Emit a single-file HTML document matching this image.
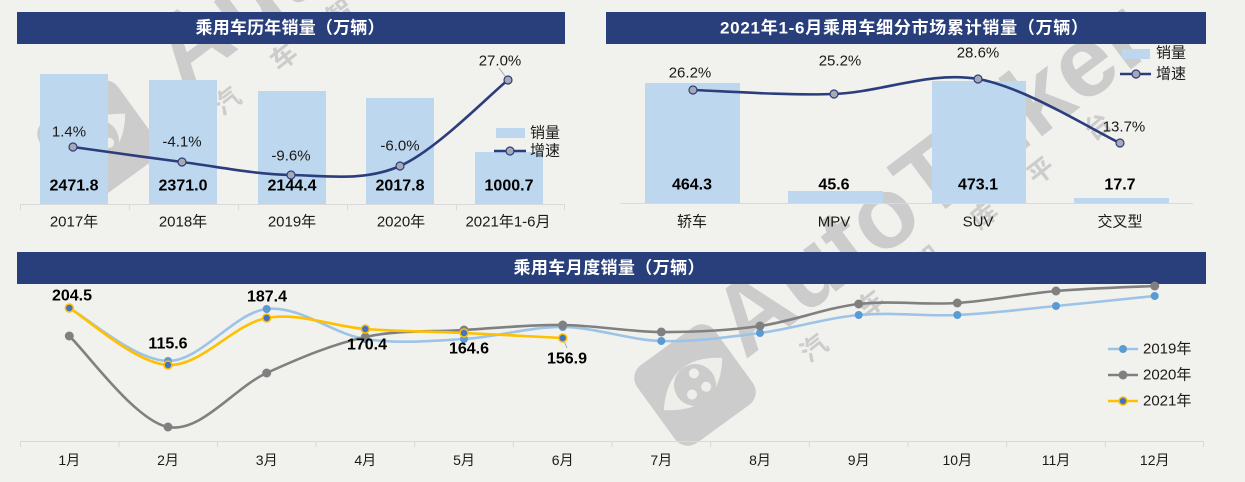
<!DOCTYPE html>
<html><head><meta charset="utf-8">
<style>
html,body{margin:0;padding:0;background:#f1f2ee;}
body{width:1245px;height:482px;overflow:hidden;}
svg{display:block;font-family:"Liberation Sans","Noto Sans CJK SC",sans-serif;}
</style></head>
<body>
<svg width="1245" height="482" viewBox="0 0 1245 482" xmlns="http://www.w3.org/2000/svg">
<rect x="0" y="0" width="1245" height="482" fill="#f1f2ee"/>

<!-- watermark copy 1 -->
<g fill="#cccccc">
  <text transform="translate(745,360) rotate(-37)" font-size="100" font-weight="bold" font-family="Liberation Sans, sans-serif">AutoTalker</text>
  <text transform="translate(813,347) rotate(-38)" x="-13" font-size="26" font-weight="bold" letter-spacing="46" dominant-baseline="central" font-family="Noto Sans CJK SC, sans-serif">汽车智库平台</text>
  <g transform="translate(695,385) rotate(-36)">
    <rect x="-48" y="-48" width="96" height="96" rx="16"/>
    <path d="M-40,2 Q-5,-40 38,-6 Q5,38 -40,2 Z" fill="#eeefeb"/>
    <circle cx="0" cy="0" r="21"/>
    <circle cx="-8" cy="6" r="5" fill="#eeefeb"/>
    <circle cx="8" cy="8" r="5" fill="#eeefeb"/>
    <circle cx="6" cy="-10" r="5" fill="#eeefeb"/>
  </g>
</g>
<!-- watermark copy 2 -->
<g fill="#cccccc">
  <text transform="translate(183,91) rotate(-37)" font-size="100" font-weight="bold" font-family="Liberation Sans, sans-serif">AutoTalker</text>
  <text transform="translate(226,100) rotate(-38)" x="-13" font-size="26" font-weight="bold" letter-spacing="46" dominant-baseline="central" font-family="Noto Sans CJK SC, sans-serif">汽车智库平台</text>
  <g transform="translate(98,141) rotate(-36)">
    <rect x="-48" y="-48" width="96" height="96" rx="16"/>
    <path d="M-40,2 Q-5,-40 38,-6 Q5,38 -40,2 Z" fill="#eeefeb"/>
    <circle cx="0" cy="0" r="21"/>
    <circle cx="-8" cy="6" r="5" fill="#eeefeb"/>
    <circle cx="8" cy="8" r="5" fill="#eeefeb"/>
    <circle cx="6" cy="-10" r="5" fill="#eeefeb"/>
  </g>
</g>

<!-- ================= LEFT PANEL ================= -->
<rect x="17" y="12" width="548" height="32" fill="#283f7c"/>
<text x="290" y="28" fill="#fff" font-size="17" font-weight="bold" text-anchor="middle" dominant-baseline="central" textLength="189" font-family="Liberation Sans, Noto Sans CJK SC, sans-serif">乘用车历年销量（万辆）</text>

<g fill="#bdd7ee">
  <rect x="40" y="74" width="68" height="130"/>
  <rect x="149" y="80" width="68" height="124"/>
  <rect x="258" y="91" width="68" height="113"/>
  <rect x="366" y="98" width="68" height="106"/>
  <rect x="475" y="152" width="68" height="52"/>
</g>
<g stroke="#d9d9d9" stroke-width="1">
  <line x1="20" y1="204.5" x2="565" y2="204.5"/>
  <line x1="20.5" y1="204" x2="20.5" y2="210"/>
  <line x1="129.5" y1="204" x2="129.5" y2="210"/>
  <line x1="238.5" y1="204" x2="238.5" y2="210"/>
  <line x1="347.5" y1="204" x2="347.5" y2="210"/>
  <line x1="456.5" y1="204" x2="456.5" y2="210"/>
  <line x1="564.5" y1="204" x2="564.5" y2="210"/>
</g>
<g font-size="15" fill="#1a1a1a" text-anchor="middle" dominant-baseline="central">
  <text x="74" y="222">2017年</text>
  <text x="183" y="222">2018年</text>
  <text x="292" y="222">2019年</text>
  <text x="401" y="222">2020年</text>
  <text x="508" y="222">2021年1-6月</text>
</g>
<g font-size="16" font-weight="bold" fill="#000" text-anchor="middle" dominant-baseline="central">
  <text x="74" y="186">2471.8</text>
  <text x="183" y="186">2371.0</text>
  <text x="292" y="186">2144.4</text>
  <text x="400" y="186">2017.8</text>
  <text x="509" y="186">1000.7</text>
</g>
<path d="M73,147 C91.2,149.5 145.7,157.3 182,162 C218.3,166.7 254.7,174.3 291,175 C327.3,175.7 363.8,181.8 400,166 C436.2,150.2 490,94.3 508,80" fill="none" stroke="#2c3d7c" stroke-width="2.6"/>
<line x1="499" y1="68" x2="505" y2="76" stroke="#9a9a9a" stroke-width="0.8"/>
<g fill="#a7a9b5" stroke="#2c3d7c" stroke-width="1.2">
  <circle cx="73" cy="147" r="4"/>
  <circle cx="182" cy="162" r="4"/>
  <circle cx="291" cy="175" r="4"/>
  <circle cx="400" cy="166" r="4"/>
  <circle cx="508" cy="80" r="4"/>
</g>
<g font-size="15" fill="#1a1a1a" text-anchor="middle" dominant-baseline="central">
  <text x="69" y="132">1.4%</text>
  <text x="182" y="142">-4.1%</text>
  <text x="291" y="156">-9.6%</text>
  <text x="400" y="146">-6.0%</text>
  <text x="500" y="61">27.0%</text>
</g>
<rect x="496" y="128" width="29" height="10" fill="#bdd7ee"/>
<line x1="494" y1="151" x2="526" y2="151" stroke="#2c3d7c" stroke-width="2.6"/>
<circle cx="510" cy="151" r="4" fill="#a7a9b5" stroke="#2c3d7c" stroke-width="1.2"/>
<g font-size="15" fill="#1a1a1a" dominant-baseline="central">
  <text x="530" y="133">销量</text>
  <text x="530" y="151">增速</text>
</g>

<!-- ================= RIGHT PANEL ================= -->
<rect x="606" y="12" width="600" height="32" fill="#283f7c"/>
<text x="904" y="28" fill="#fff" font-size="17" font-weight="bold" text-anchor="middle" dominant-baseline="central" textLength="368" font-family="Liberation Sans, Noto Sans CJK SC, sans-serif">2021年1-6月乘用车细分市场累计销量（万辆）</text>

<g fill="#bdd7ee">
  <rect x="645" y="83" width="95" height="120"/>
  <rect x="788" y="191" width="95" height="12"/>
  <rect x="932" y="81" width="94" height="122"/>
  <rect x="1074" y="198" width="95" height="5"/>
</g>
<line x1="620" y1="203.5" x2="1193" y2="203.5" stroke="#d9d9d9" stroke-width="1"/>
<g font-size="15" fill="#1a1a1a" text-anchor="middle" dominant-baseline="central">
  <text x="692" y="222">轿车</text>
  <text x="834" y="222">MPV</text>
  <text x="978" y="222">SUV</text>
  <text x="1120" y="222">交叉型</text>
</g>
<g font-size="16" font-weight="bold" fill="#000" text-anchor="middle" dominant-baseline="central">
  <text x="692" y="185">464.3</text>
  <text x="834" y="185">45.6</text>
  <text x="978" y="185">473.1</text>
  <text x="1120" y="185">17.7</text>
</g>
<path d="M693,90 C716.5,90.7 786.5,95.8 834,94 C881.5,92.2 930.3,70.8 978,79 C1025.7,87.2 1096.3,132.3 1120,143" fill="none" stroke="#2c3d7c" stroke-width="2.6"/>
<g fill="#a7a9b5" stroke="#2c3d7c" stroke-width="1.2">
  <circle cx="693" cy="90" r="4"/>
  <circle cx="834" cy="94" r="4"/>
  <circle cx="978" cy="79" r="4"/>
  <circle cx="1120" cy="143" r="4"/>
</g>
<g font-size="15" fill="#1a1a1a" text-anchor="middle" dominant-baseline="central">
  <text x="690" y="73">26.2%</text>
  <text x="840" y="61">25.2%</text>
  <text x="978" y="53">28.6%</text>
  <text x="1124" y="127">13.7%</text>
</g>
<rect x="1122" y="49" width="28" height="10" fill="#bdd7ee"/>
<line x1="1120" y1="74" x2="1151" y2="74" stroke="#2c3d7c" stroke-width="2.6"/>
<circle cx="1136" cy="74" r="4" fill="#a7a9b5" stroke="#2c3d7c" stroke-width="1.2"/>
<g font-size="15" fill="#1a1a1a" dominant-baseline="central">
  <text x="1156" y="53">销量</text>
  <text x="1156" y="74">增速</text>
</g>

<!-- ================= BOTTOM PANEL ================= -->
<rect x="17" y="252" width="1189" height="32" fill="#283f7c"/>
<text x="609" y="268" fill="#fff" font-size="17" font-weight="bold" text-anchor="middle" dominant-baseline="central" textLength="191" font-family="Liberation Sans, Noto Sans CJK SC, sans-serif">乘用车月度销量（万辆）</text>

<g stroke="#d9d9d9" stroke-width="1">
  <line x1="20" y1="441.5" x2="1204" y2="441.5"/>
  <line x1="20.5" y1="441" x2="20.5" y2="447"/>
  <line x1="119" y1="441" x2="119" y2="447"/>
  <line x1="217.5" y1="441" x2="217.5" y2="447"/>
  <line x1="316" y1="441" x2="316" y2="447"/>
  <line x1="414.7" y1="441" x2="414.7" y2="447"/>
  <line x1="513.3" y1="441" x2="513.3" y2="447"/>
  <line x1="612" y1="441" x2="612" y2="447"/>
  <line x1="710.7" y1="441" x2="710.7" y2="447"/>
  <line x1="809.3" y1="441" x2="809.3" y2="447"/>
  <line x1="908" y1="441" x2="908" y2="447"/>
  <line x1="1006.7" y1="441" x2="1006.7" y2="447"/>
  <line x1="1105.3" y1="441" x2="1105.3" y2="447"/>
  <line x1="1203.5" y1="441" x2="1203.5" y2="447"/>
</g>
<g font-size="14" fill="#1a1a1a" text-anchor="middle" dominant-baseline="central">
  <text x="69.3" y="460">1月</text>
  <text x="168" y="460">2月</text>
  <text x="266.7" y="460">3月</text>
  <text x="365.3" y="460">4月</text>
  <text x="464" y="460">5月</text>
  <text x="562.7" y="460">6月</text>
  <text x="661.3" y="460">7月</text>
  <text x="760" y="460">8月</text>
  <text x="858.7" y="460">9月</text>
  <text x="957.3" y="460">10月</text>
  <text x="1056" y="460">11月</text>
  <text x="1154.7" y="460">12月</text>
</g>

<!-- 2019 -->
<path d="M69.3,308 C85.7,316.8 135.1,360.8 168,361 C200.9,361.2 233.8,312.7 266.7,309 C299.6,305.3 332.4,334 365.3,339 C398.2,344 431.1,341 464,339 C496.9,337 529.8,326.7 562.7,327 C595.6,327.3 628.4,340 661.3,341 C694.2,342 727.1,337.3 760,333 C792.9,328.7 825.8,318 858.7,315 C891.6,312 924.4,316.5 957.3,315 C990.2,313.5 1023.1,309.2 1056,306 C1088.9,302.8 1138.3,297.7 1154.7,296" fill="none" stroke="#9dc3e6" stroke-width="2.6"/>
<g fill="#5b9bd5">
  <circle cx="69.3" cy="308" r="4"/><circle cx="168" cy="361" r="4"/><circle cx="266.7" cy="309" r="4"/>
  <circle cx="365.3" cy="339" r="4"/><circle cx="464" cy="339" r="4"/><circle cx="562.7" cy="327" r="4"/>
  <circle cx="661.3" cy="341" r="4"/><circle cx="760" cy="333" r="4"/><circle cx="858.7" cy="315" r="4"/>
  <circle cx="957.3" cy="315" r="4"/><circle cx="1056" cy="306" r="4"/><circle cx="1154.7" cy="296" r="4"/>
</g>
<!-- 2020 -->
<path d="M69.3,336 C85.7,351.2 135.1,420.8 168,427 C200.9,433.2 233.8,388 266.7,373 C299.6,358 332.4,344.2 365.3,337 C398.2,329.8 431.1,332 464,330 C496.9,328 529.8,324.7 562.7,325 C595.6,325.3 628.4,331.8 661.3,332 C694.2,332.2 727.1,330.7 760,326 C792.9,321.3 825.8,307.8 858.7,304 C891.6,300.2 924.4,305.2 957.3,303 C990.2,300.8 1023.1,293.8 1056,291 C1088.9,288.2 1138.3,286.8 1154.7,286" fill="none" stroke="#808080" stroke-width="2.6"/>
<g fill="#808080">
  <circle cx="69.3" cy="336" r="4.5"/><circle cx="168" cy="427" r="4.5"/><circle cx="266.7" cy="373" r="4.5"/>
  <circle cx="365.3" cy="337" r="4.5"/><circle cx="464" cy="330" r="4.5"/><circle cx="562.7" cy="325" r="4.5"/>
  <circle cx="661.3" cy="332" r="4.5"/><circle cx="760" cy="326" r="4.5"/><circle cx="858.7" cy="304" r="4.5"/>
  <circle cx="957.3" cy="303" r="4.5"/><circle cx="1056" cy="291" r="4.5"/><circle cx="1154.7" cy="286" r="4.5"/>
</g>
<!-- 2021 -->
<path d="M69.3,308 C85.7,317.5 135.1,363.3 168,365 C200.9,366.7 233.8,324 266.7,318 C299.6,312 332.4,326.5 365.3,329 C398.2,331.5 431.1,331.5 464,333 C496.9,334.5 546.3,337.2 562.7,338" fill="none" stroke="#ffc000" stroke-width="2.6"/>
<line x1="564" y1="341" x2="567" y2="348" stroke="#9a9a9a" stroke-width="0.8"/>
<g fill="#4472c4" stroke="#ffc000" stroke-width="1.5">
  <circle cx="69.3" cy="308" r="4"/><circle cx="168" cy="365" r="4"/><circle cx="266.7" cy="318" r="4"/>
  <circle cx="365.3" cy="329" r="4"/><circle cx="464" cy="333" r="4"/><circle cx="562.7" cy="338" r="4"/>
</g>
<g font-size="16" font-weight="bold" fill="#000" text-anchor="middle" dominant-baseline="central">
  <text x="72" y="296">204.5</text>
  <text x="168" y="344">115.6</text>
  <text x="267" y="297">187.4</text>
  <text x="367" y="345">170.4</text>
  <text x="469" y="349">164.6</text>
  <text x="567" y="359">156.9</text>
</g>
<line x1="1108" y1="349" x2="1138" y2="349" stroke="#9dc3e6" stroke-width="2.6"/>
<circle cx="1123" cy="349" r="4" fill="#5b9bd5"/>
<line x1="1108" y1="375" x2="1138" y2="375" stroke="#808080" stroke-width="2.6"/>
<circle cx="1123" cy="375" r="4.5" fill="#808080"/>
<line x1="1108" y1="401" x2="1138" y2="401" stroke="#ffc000" stroke-width="2.6"/>
<circle cx="1123" cy="401" r="4" fill="#4472c4" stroke="#ffc000" stroke-width="1.5"/>
<g font-size="15" fill="#1a1a1a" dominant-baseline="central">
  <text x="1143" y="349">2019年</text>
  <text x="1143" y="375">2020年</text>
  <text x="1143" y="401">2021年</text>
</g>
</svg>
</body></html>
